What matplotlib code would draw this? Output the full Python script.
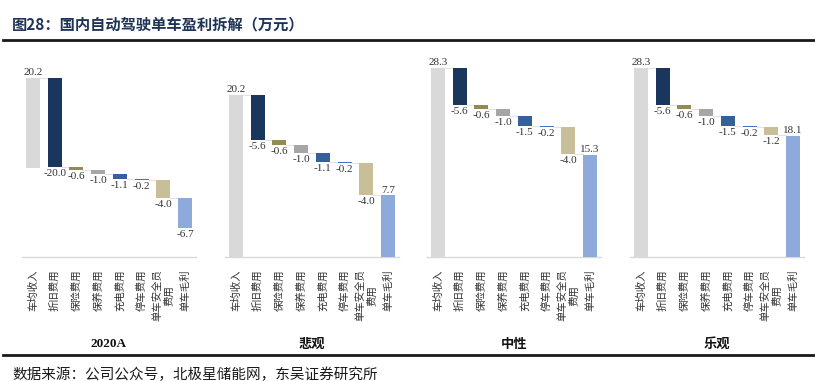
import matplotlib
matplotlib.use("Agg")
import matplotlib.pyplot as plt
from matplotlib.lines import Line2D

plt.rcParams['font.family'] = ['Noto Sans CJK SC', 'DejaVu Sans']

categories = ['车均收入', '折旧费用', '保险费用', '保养费用', '充电费用',
              '停车费用', '单车安全员\n费用', '单车毛利']
scenarios = ['2020A', '悲观', '中性', '乐观']
vals_2020a = [20.2, -20.0, -0.6, -1.0, -1.1, -0.2, -4.0, -6.7]
vals_bear = [20.2, -5.6, -0.6, -1.0, -1.1, -0.2, -4.0, 7.7]
vals_base = [28.3, -5.6, -0.6, -1.0, -1.5, -0.2, -4.0, 15.3]
vals_bull = [28.3, -5.6, -0.6, -1.0, -1.5, -0.2, -1.2, 18.1]
all_vals = [vals_2020a, vals_bear, vals_base, vals_bull]

bar_colors = ['#D9D9D9', '#1B365D', '#948A54', '#A6A6A6',
              '#35609A', '#4472C4', '#C8BF98', '#8EAADB']
ylims = [(-20, 25), (0, 25), (0, 30), (0, 30)]

W, H = 815, 381
fig = plt.figure(figsize=(W / 100, H / 100), dpi=100)

num_font = ['Liberation Serif', 'DejaVu Serif']
lefts = [22, 225, 427, 630]
bw = 0.65

for k, vals in enumerate(all_vals):
    ax = fig.add_axes([lefts[k] / W, 1 - 257 / H, 174 / W, (257 - 56.5) / H])
    bottoms, heights = [], []
    running = 0
    for i, v in enumerate(vals):
        if i == 0:
            bottoms.append(0)
            heights.append(v)
            running = v
        elif i == len(vals) - 1:
            # total bar; excel draws a negative total hanging below itself
            bottoms.append(0 if v >= 0 else v)
            heights.append(v)
        else:
            bottoms.append(running)
            heights.append(v)
            running += v
    x = list(range(len(vals)))
    ax.bar(x, heights, bottom=bottoms, width=bw, color=bar_colors, zorder=3)

    # faint connector lines between bars
    for i in range(len(vals) - 1):
        y = bottoms[i] + heights[i]
        ax.plot([i + bw / 2, i + 1 - bw / 2], [y, y], color='#E3E3E3',
                lw=0.8, zorder=2)

    for i, v in enumerate(vals):
        top = max(bottoms[i], bottoms[i] + heights[i])
        bot = min(bottoms[i], bottoms[i] + heights[i])
        if v > 0:
            ax.annotate(f'{v:.1f}', (i, top), xytext=(0, 0.5),
                        textcoords='offset points', ha='center', va='bottom',
                        fontsize=8, family=num_font, color='#333333')
        else:
            ax.annotate(f'{v:.1f}', (i, bot), xytext=(0, -1.5),
                        textcoords='offset points', ha='center', va='top',
                        fontsize=8, family=num_font, color='#333333')

    ax.set_xlim(-0.5, len(vals) - 0.5)
    ax.set_ylim(*ylims[k])
    ax.set_xticks(x)
    ax.set_xticklabels(categories, rotation=90, fontsize=7.5,
                       multialignment='center', color='#333333')
    ax.tick_params(axis='x', length=0, pad=9)
    ax.set_yticks([])
    for s in ['top', 'left', 'right']:
        ax.spines[s].set_visible(False)
    ax.spines['bottom'].set_color('#D9D9D9')
    ax.spines['bottom'].set_linewidth(1)

    tfam = num_font if k == 0 else ['Noto Sans CJK SC']
    fig.text((lefts[k] + 87) / W, 1 - 344 / H, scenarios[k], ha='center',
             va='center', fontsize=9.5, fontweight='bold', family=tfam,
             color='#111111')

fig.text(12 / W, 1 - 24 / H, '图28：国内自动驾驶单车盈利拆解（万元）',
         ha='left', va='center', fontsize=11, fontweight='bold',
         color='#1F3356')
fig.add_artist(Line2D([3 / W, 1], [1 - 40 / H] * 2, color='#1A1A1A', lw=2))
fig.add_artist(Line2D([3 / W, 1], [1 - 355 / H] * 2, color='#1A1A1A', lw=2))
fig.text(12 / W, 1 - 379 / H, '数据来源：公司公众号，北极星储能网，东吴证券研究所',
         ha='left', va='baseline', fontsize=10.5, color='#1A1A1A')

fig.savefig('out.png', dpi=100)
